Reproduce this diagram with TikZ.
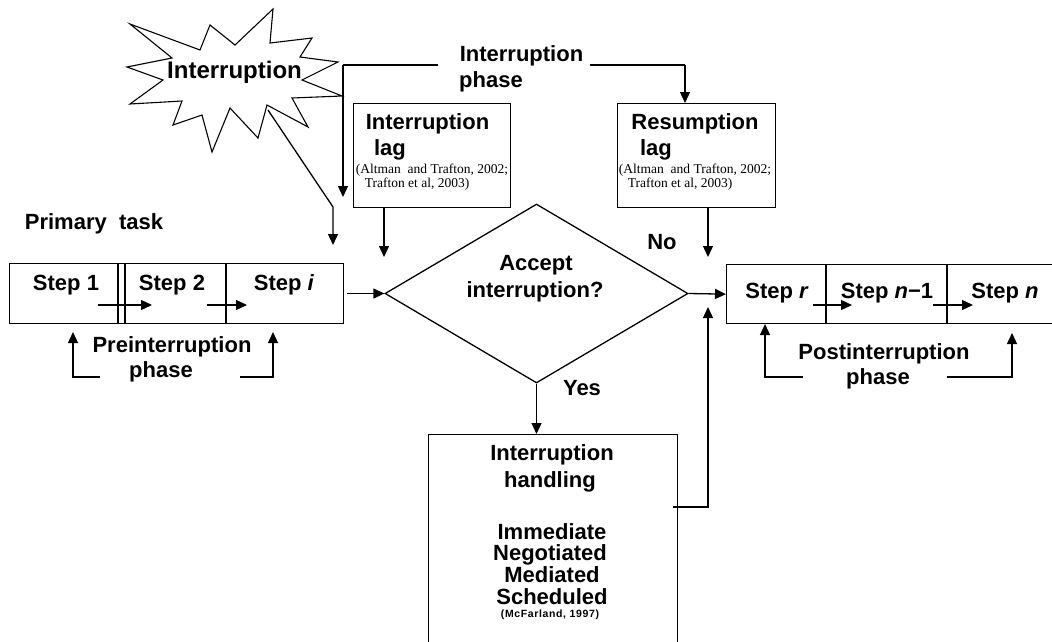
\documentclass[tikz,border=0pt]{standalone}
\usepackage{fontspec}
\setmainfont{Liberation Sans}
\newfontfamily\timesf{Liberation Serif}
\newfontfamily\spacedsans[LetterSpace=6]{Liberation Sans}
\usetikzlibrary{arrows.meta,shapes.geometric}
\begin{document}
\begin{tikzpicture}[x=1pt,y=-1pt,line width=1.3pt,
  >={Triangle[length=11pt,width=10pt]},
  lbl/.style={font=\bfseries\fontsize{22}{24}\selectfont,inner sep=0pt,text height=15.8pt,text depth=0pt},
  biglbl/.style={font=\bfseries\fontsize{24}{26}\selectfont,inner sep=0pt,text height=17.2pt,text depth=0pt},
  citetxt/.style={font=\timesf\fontsize{13.5}{15}\selectfont,inner sep=0pt,text height=8.9pt,text depth=0pt},
  smallcite/.style={font=\spacedsans\bfseries\fontsize{10.5}{12}\selectfont,inner sep=0pt,text height=7.5pt,text depth=0pt},
  boxnode/.style={draw,anchor=north west,inner sep=0pt}]
\useasboundingbox (0,0) rectangle (1052,641);
\clip (0,0) rectangle (1052,641);
\fill[white] (0,0) rectangle (1052,641);

% starburst
\draw[line width=1.1pt,fill=white] (130,24) -- (200,50) -- (210,25) -- (235,45) -- (273,9) -- (270,43)
  -- (312,38) -- (300,57) -- (338,62) -- (302,80) -- (342,96) -- (292,98) -- (308,127)
  -- (267,105) -- (258,138) -- (230,108) -- (212,152) -- (202,115) -- (173,125) -- (182,101)
  -- (130,104) -- (163,80) -- (127,67) -- (172,58) -- cycle;
\node[biglbl] (star) at (234.5,70) {Interruption};

% interruption phase label
\node[lbl] (ph1) at (521.5,54) {Interruption};
\node[lbl] (ph2) at (491,80) {phase};
\coordinate (phL) at (438,65);
\coordinate (phLc) at (343,65);
\coordinate (phLt) at (343,197);
\coordinate (phR) at (590,65);
\coordinate (phRc) at (685,65);

% lag boxes
\node[boxnode,minimum width=157pt,minimum height=104pt] (ilag) at (353,103) {};
\node[lbl] (il1) at (427.5,122) {Interruption};
\node[lbl] (il2) at (390,148) {lag};
\node[citetxt] (il3) at (432,169) {(Altman\ \ and Trafton, 2002;};
\node[citetxt] (il4) at (417,183) {Trafton et al, 2003)};

\node[boxnode,minimum width=158pt,minimum height=104pt] (rlag) at (617,103) {};
\node[lbl] (rl1) at (695,122) {Resumption};
\node[lbl] (rl2) at (656,148) {lag};
\node[citetxt] (rl3) at (695,169) {(Altman\ \ and Trafton, 2002;};
\node[citetxt] (rl4) at (680,183) {Trafton et al, 2003)};

\draw (phL) -- (phLc);
\draw[->] (phLc) -- (phLt);
\draw (phR) -- (phRc);
\draw[->] (phRc) -- (rlag.north -| phRc);

% primary task
\node[lbl] (ptask) at (94,222) {Primary\ \ task};

% left strip
\node[boxnode,minimum width=334pt,minimum height=60pt] (lstrip) at (9,263) {};
\draw (118,263) -- (118,323);
\draw (125,263) -- (125,323);
\draw (226,263) -- (226,323);
\node[lbl] (s1) at (66,283) {Step 1};
\node[lbl] (s2) at (172,283) {Step 2};
\node[lbl] (s3) at (284,283) {Step \textit{i}};
\coordinate (a1s) at (98,305); \coordinate (a1e) at (152,305);
\coordinate (a2s) at (207,305); \coordinate (a2e) at (247,305);
\draw[->] (a1s) -- (a1e);
\draw[->] (a2s) -- (a2e);

% star connector
\coordinate (stS) at (268,110);
\coordinate (stB) at (333,207);
\coordinate (stT) at (333,245);
\draw[->] (stS) -- (stB) -- (stT);
\coordinate (ilT) at (384,257);
\draw[->] (ilag.south -| ilT) -- (ilT);
\coordinate (rlT) at (708,257);
\draw[->] (rlag.south -| rlT) -- (rlT);

% preinterruption
\node[lbl] (pre1) at (172,345) {Preinterruption};
\node[lbl] (pre2) at (161,370) {phase};
\coordinate (pl0) at (100,377); \coordinate (pl1) at (73,377); \coordinate (pl2) at (73,332);
\coordinate (pr0) at (240,377); \coordinate (pr1) at (273,377); \coordinate (pr2) at (273,332);
\draw[->] (pl0) -- (pl1) -- (pl2);
\draw[->] (pr0) -- (pr1) -- (pr2);

% diamond
\node[draw,diamond,minimum width=303pt,minimum height=179pt,inner sep=0pt] (dia) at (536.5,293.5) {};
\node[lbl] (d1) at (536,263) {Accept};
\node[lbl] (d2) at (535,290) {interruption?};
\coordinate (siE) at (347,293.5);
\draw[->] (siE) -- (dia.west);
\node[lbl] (no) at (662,242) {No};
\node[lbl] (yes) at (582,388) {Yes};

% right strip
\node[boxnode,minimum width=340pt,minimum height=59pt] (rstrip) at (726,264) {};
\draw (826,264) -- (826,323);
\draw (947,264) -- (947,323);
\node[lbl] (r1) at (777,291) {Step \textit{r}};
\node[lbl] (r2) at (887,291) {Step \textit{n}−1};
\node[lbl] (r3) at (1005,291) {Step \textit{n}};
\coordinate (b1s) at (813,305); \coordinate (b1e) at (852,305);
\coordinate (b2s) at (933,305); \coordinate (b2e) at (973,305);
\draw[->] (b1s) -- (b1e);
\draw[->] (b2s) -- (b2e);
\draw[->] (dia.east) -- (rstrip.west);

% postinterruption
\node[lbl] (post1) at (884,352) {Postinterruption};
\node[lbl] (post2) at (878,377) {phase};
\coordinate (ql0) at (803,377); \coordinate (ql1) at (765,377); \coordinate (ql2) at (765,324);
\coordinate (qr0) at (947,377); \coordinate (qr1) at (1012,377); \coordinate (qr2) at (1012,333);
\draw[->] (ql0) -- (ql1) -- (ql2);
\draw[->] (qr0) -- (qr1) -- (qr2);

% handling box
\node[boxnode,minimum width=249pt,minimum height=220pt] (hand) at (428,434) {};
\draw[->] (dia.south) -- (dia.south |- hand.north);
\node[lbl] (h1) at (552,453) {Interruption};
\node[lbl] (h2) at (550,480) {handling};
\node[lbl] (h3) at (552,532) {Immediate};
\node[lbl] (h4) at (550,553) {Negotiated};
\node[lbl] (h5) at (552,575) {Mediated};
\node[lbl] (h6) at (552,597) {Scheduled};
\node[smallcite] (h7) at (550,614) {(McFarland, 1997)};
\coordinate (ret0) at (673,507);
\coordinate (ret1) at (708,507);
\coordinate (ret2) at (708,307);
\draw[->] (ret0) -- (ret1) -- (ret2);
\end{tikzpicture}
\end{document}
